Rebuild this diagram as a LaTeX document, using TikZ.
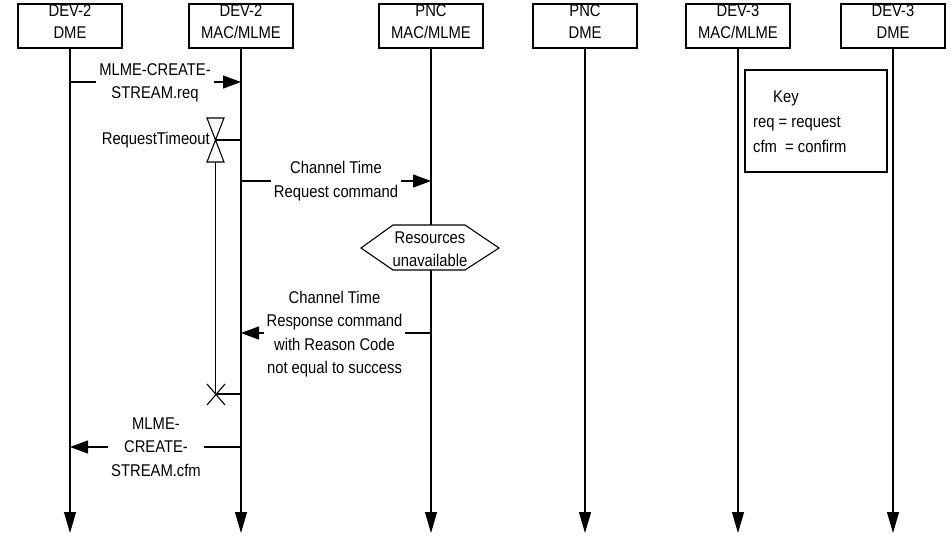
\documentclass[tikz,border=0pt]{standalone}
\usepackage{fontspec}
\setmainfont{Liberation Sans}[FakeStretch=0.87]
\usetikzlibrary{arrows.meta}
\begin{document}
\begin{tikzpicture}[x=1pt,y=-1pt,
  hdr/.style={draw, line width=1.1pt, minimum width=104pt, minimum height=44pt, inner sep=0pt},
  txt/.style={font=\fontsize{17}{22}\selectfont, align=center, inner sep=0pt},
  txtw/.style={font=\fontsize{17}{23.5}\selectfont, align=center, inner sep=0pt},
  lbl/.style={txtw, fill=white, inner xsep=3pt, inner ysep=1pt},
  life/.style={line width=1.1pt, -{Triangle[length=21pt,width=12pt]}},
  msg/.style={line width=1.1pt, -{Triangle[length=18pt,width=13pt]}},
  plain/.style={line width=1.1pt}]
\useasboundingbox (0,0) rectangle (951,542);
% headers
\node[hdr] (h1) at (70,26) {};
\node[hdr] (h2) at (241,26) {};
\node[hdr] (h3) at (431,26) {};
\node[hdr] (h4) at (585,26) {};
\node[hdr] (h5) at (738,26) {};
\node[hdr] (h6) at (893,26) {};
\node[txt] (t1) at (70,22) {DEV-2\\DME};
\node[txt] (t2) at (241,22) {DEV-2\\MAC/MLME};
\node[txt] (t3) at (431,22) {PNC\\MAC/MLME};
\node[txt] (t4) at (585,22) {PNC\\DME};
\node[txt] (t5) at (738,22) {DEV-3\\MAC/MLME};
\node[txt] (t6) at (893,22) {DEV-3\\DME};
% lifelines
\coordinate (e1) at (70,533);
\coordinate (e2) at (241,533);
\coordinate (e3) at (431,533);
\coordinate (e4) at (585,533);
\coordinate (e5) at (738,533);
\coordinate (e6) at (893,533);
\draw[life] (h1.south) -- (e1);
\draw[life] (h2.south) -- (e2);
\draw[life] (h3.south) -- (e3);
\draw[life] (h4.south) -- (e4);
\draw[life] (h5.south) -- (e5);
\draw[life] (h6.south) -- (e6);
% key
\node[draw, line width=1.1pt, minimum width=142pt, minimum height=102pt, inner sep=0pt] (key) at (816,121) {};
\node[font=\fontsize{17}{25}\selectfont, align=left, inner sep=0pt, anchor=west] (keytxt) at (753,122) {\hspace*{20pt}Key\\req = request\\cfm~~= confirm};
% MLME-CREATE-STREAM.req
\coordinate (r1a) at (70,82);
\coordinate (r1b) at (241,82);
\draw[msg] (r1a) -- (r1b);
\node[lbl] (m1) at (155,83) {MLME-CREATE-\\STREAM.req};
% request timeout
\coordinate (tmr) at (215.5,140);
\coordinate (tmrb) at (241,140);
\coordinate (tmrlow) at (215.5,162);
\coordinate (xc) at (215.5,394);
\coordinate (xcb) at (241,394);
\draw[plain, fill=white] (207,118) -- (224,118) -- (207,162) -- (224,162) -- cycle;
\draw[plain] (tmr) -- (tmrb);
\draw[plain] (tmrlow) -- (xc);
\draw[plain] (207,384) -- (225,405) (207,405) -- (225,384);
\draw[plain] (xc) -- (xcb);
\node[txtw, anchor=east] (rt) at (210,140) {RequestTimeout};
% channel time request
\coordinate (c1a) at (241,181);
\coordinate (c1b) at (431,181);
\draw[msg] (c1a) -- (c1b);
\node[lbl] (m2) at (336,181) {Channel Time\\Request command};
% resources unavailable
\draw[plain, fill=white] (361,248) -- (393,225) -- (465,225) -- (499,248) -- (465,270) -- (393,270) -- cycle;
\node[txtw] (ru) at (430,249) {Resources\\unavailable};
% channel time response
\coordinate (c2a) at (431,333);
\coordinate (c2b) at (241,333);
\draw[msg] (c2a) -- (c2b);
\node[lbl] (m3) at (334.5,334) {Channel Time\\Response command\\with Reason Code\\not equal to success};
% cfm
\coordinate (f1a) at (241,447);
\coordinate (f1b) at (70,447);
\draw[msg] (f1a) -- (f1b);
\node[lbl] (m4) at (156,447) {MLME-\\CREATE-\\STREAM.cfm};
\end{tikzpicture}
\end{document}
